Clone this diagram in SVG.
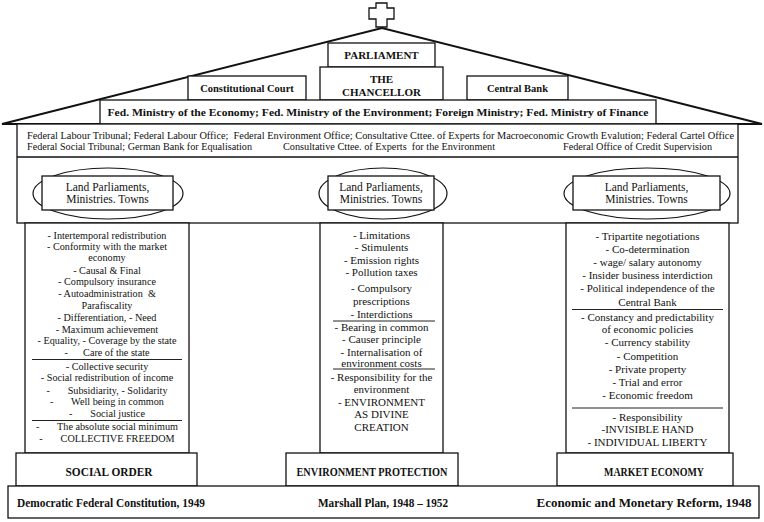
<svg xmlns="http://www.w3.org/2000/svg" width="764" height="522" viewBox="0 0 764 522">
<style>
  .box { fill: #fff; stroke: #111; stroke-width: 1.3; }
  .roof { fill: #fff; stroke: #111; stroke-width: 2; stroke-linejoin: miter; }
  .sep { stroke: #222; stroke-width: 1; }
  .oval { fill: #fff; stroke: #111; stroke-width: 1.2; }
  text { font-family: "Liberation Serif", "Times New Roman", serif; fill: #111; white-space: pre; }
  .b { font-weight: bold; }
  .c { text-anchor: middle; }
  .t10 { font-size: 10.2px; }
  .t11 { font-size: 11px; }
  .land { font-size: 11.5px; text-anchor: middle; }
  .trib { font-size: 10px; }
</style>
<rect width="764" height="522" fill="#fff"/>

<g id="roof">
  <polygon class="roof" points="2,124 382,28 762,124"/>
  <polygon class="box" points="376,3 387,3 387,8 394,8 394,19 387,19 387,27 376,27 376,19 369,19 369,8 376,8"/>
</g>

<g id="parliament">
  <rect class="box" x="328" y="43" width="107" height="24"/>
  <text class="b c t11" x="381.5" y="59">PARLIAMENT</text>
</g>
<g id="chancellor">
  <rect class="box" x="320" y="67" width="123" height="33"/>
  <text class="b c t11" x="381.5" y="83">THE</text>
  <text class="b c t11" x="381.5" y="96">CHANCELLOR</text>
</g>
<g id="constitutional-court">
  <rect class="box" x="188" y="76" width="118" height="24"/>
  <text class="b c" font-size="10.5" x="247" y="92">Constitutional Court</text>
</g>
<g id="central-bank">
  <rect class="box" x="467" y="76" width="101" height="24"/>
  <text class="b c" font-size="10.5" x="517.5" y="92">Central Bank</text>
</g>
<g id="ministries">
  <rect class="box" x="100" y="100" width="556" height="24"/>
  <text class="b c t11" x="378" y="116" textLength="541" lengthAdjust="spacingAndGlyphs">Fed. Ministry of the Economy; Fed. Ministry of the Environment; Foreign Ministry; Fed. Ministry of Finance</text>
</g>

<g id="federal-offices">
  <rect class="box" x="17" y="124" width="721" height="99"/>
  <line class="box" x1="17" y1="157" x2="738" y2="157"/>
  <text class="trib" x="27" y="138.5" textLength="707" lengthAdjust="spacingAndGlyphs">Federal Labour Tribunal; Federal Labour Office;  Federal Environment Office; Consultative Cttee. of Experts for Macroeconomic Growth Evalution; Federal Cartel Office</text>
  <text class="trib" x="27" y="150" textLength="225" lengthAdjust="spacingAndGlyphs">Federal Social Tribunal; German Bank for Equalisation</text>
  <text class="trib" x="283" y="150" textLength="212" lengthAdjust="spacingAndGlyphs">Consultative Cttee. of Experts  for the Environment</text>
  <text class="trib" x="563" y="150" textLength="149" lengthAdjust="spacingAndGlyphs">Federal Office of Credit Supervision</text>
</g>

<g id="land-left">
  <ellipse class="oval" cx="108" cy="193.5" rx="75" ry="25.5"/>
  <rect class="box" x="42" y="176" width="131" height="34"/>
  <text class="land" x="107.5" y="190.5">Land Parliaments,</text>
  <text class="land" x="107.5" y="203">Ministries. Towns</text>
</g>
<g id="land-middle">
  <ellipse class="oval" cx="383" cy="193.5" rx="64" ry="25.5"/>
  <rect class="box" x="328" y="176" width="106" height="34"/>
  <text class="land" x="381" y="190.5">Land Parliaments,</text>
  <text class="land" x="381" y="203">Ministries. Towns</text>
</g>
<g id="land-right">
  <ellipse class="oval" cx="647" cy="193.5" rx="83" ry="25.5"/>
  <rect class="box" x="573" y="176" width="147" height="34"/>
  <text class="land" x="646.5" y="190.5">Land Parliaments,</text>
  <text class="land" x="646.5" y="203">Ministries. Towns</text>
</g>

<g id="column-social">
  <rect class="box" x="25" y="223" width="164" height="230"/>
  <line class="sep" x1="32" y1="359.5" x2="182" y2="359.5"/>
  <line class="sep" x1="32" y1="420.5" x2="182" y2="420.5"/>
  <g class="c t10">
    <text x="107" y="238.5">- Intertemporal redistribution</text>
    <text x="107" y="249.5">- Conformity with the market</text>
    <text x="107" y="261">economy</text>
    <text x="107" y="273.5">- Causal &amp; Final</text>
    <text x="107" y="285">- Compulsory insurance</text>
    <text x="107" y="297">- Autoadministration  &amp;</text>
    <text x="107" y="308.5">Parafiscality</text>
    <text x="107" y="321">- Differentiation, - Need</text>
    <text x="107" y="332.5">- Maximum achievement</text>
    <text x="107" y="344">- Equality, - Coverage by the state</text>
    <text x="107" y="356">-      Care of the state</text>
    <text x="107" y="369.5">- Collective security</text>
    <text x="107" y="381">- Social redistribution of income</text>
    <text x="107" y="393.5">-       Subsidiarity, - Solidarity</text>
    <text x="107" y="405">-       Well being in common</text>
    <text x="107" y="417">-       Social justice</text>
    <text x="107" y="430">-       The absolute social minimum</text>
    <text x="107" y="442">-       COLLECTIVE FREEDOM</text>
  </g>
</g>

<g id="column-environment">
  <rect class="box" x="320" y="223" width="123" height="230"/>
  <line class="sep" x1="333" y1="321" x2="435" y2="321"/>
  <line class="sep" x1="333" y1="369" x2="435" y2="369"/>
  <g class="c t11">
    <text x="381.5" y="239">- Limitations</text>
    <text x="381.5" y="251">- Stimulents</text>
    <text x="381.5" y="263.5">- Emission rights</text>
    <text x="381.5" y="276">- Pollution taxes</text>
    <text x="381.5" y="292">- Compulsory</text>
    <text x="381.5" y="304.5">prescriptions</text>
    <text x="381.5" y="317.5">- Interdictions</text>
    <text x="381.5" y="331">- Bearing in common</text>
    <text x="381.5" y="343">- Causer principle</text>
    <text x="381.5" y="355.5">- Internalisation of</text>
    <text x="381.5" y="366.5">environment costs</text>
    <text x="381.5" y="380.5">- Responsibility for the</text>
    <text x="381.5" y="393">environment</text>
    <text x="381.5" y="405.5">- ENVIRONMENT</text>
    <text x="381.5" y="418">AS DIVINE</text>
    <text x="381.5" y="430.5">CREATION</text>
  </g>
</g>

<g id="column-market">
  <rect class="box" x="566" y="223" width="163" height="230"/>
  <line class="sep" x1="572" y1="309.5" x2="723" y2="309.5"/>
  <line class="sep" x1="572" y1="408" x2="723" y2="408"/>
  <g class="c t11">
    <text x="647.5" y="239.5">- Tripartite negotiations</text>
    <text x="647.5" y="253">- Co-determination</text>
    <text x="647.5" y="266">- wage/ salary autonomy</text>
    <text x="647.5" y="279">- Insider business interdiction</text>
    <text x="647.5" y="292">- Political independence of the</text>
    <text x="647.5" y="305.5">Central Bank</text>
    <text x="647.5" y="320.5">- Constancy and predictability</text>
    <text x="647.5" y="333">of economic policies</text>
    <text x="647.5" y="346">- Currency stability</text>
    <text x="647.5" y="359.5">- Competition</text>
    <text x="647.5" y="372.5">- Private property</text>
    <text x="647.5" y="385.5">- Trial and error</text>
    <text x="647.5" y="398.5">- Economic freedom</text>
    <text x="647.5" y="420.5">- Responsibility</text>
    <text x="647.5" y="433">-INVISIBLE HAND</text>
    <text x="647.5" y="446">- INDIVIDUAL LIBERTY</text>
  </g>
</g>

<g id="social-order">
  <rect class="box" x="16" y="453" width="181" height="33"/>
  <text class="b c" font-size="11.5" x="109" y="475.5" textLength="87" lengthAdjust="spacingAndGlyphs">SOCIAL ORDER</text>
</g>
<g id="environment-protection">
  <rect class="box" x="286" y="453" width="172" height="33"/>
  <text class="b c" font-size="11.5" x="372" y="475.5" textLength="151" lengthAdjust="spacingAndGlyphs">ENVIRONMENT PROTECTION</text>
</g>
<g id="market-economy">
  <rect class="box" x="557" y="453" width="176" height="33"/>
  <text class="b c" font-size="11.5" x="654" y="475.5" textLength="100" lengthAdjust="spacingAndGlyphs">MARKET ECONOMY</text>
</g>

<g id="foundation">
  <rect class="box" x="8" y="486" width="751" height="32"/>
  <text class="b c" font-size="11.5" x="111" y="507" textLength="188" lengthAdjust="spacingAndGlyphs">Democratic Federal Constitution, 1949</text>
  <text class="b c" font-size="11.5" x="383" y="507" textLength="130" lengthAdjust="spacingAndGlyphs">Marshall Plan, 1948 – 1952</text>
  <text class="b c" font-size="11.5" x="644" y="507" textLength="215" lengthAdjust="spacingAndGlyphs">Economic and Monetary Reform, 1948</text>
</g>

<g id="connectors"/>
</svg>
